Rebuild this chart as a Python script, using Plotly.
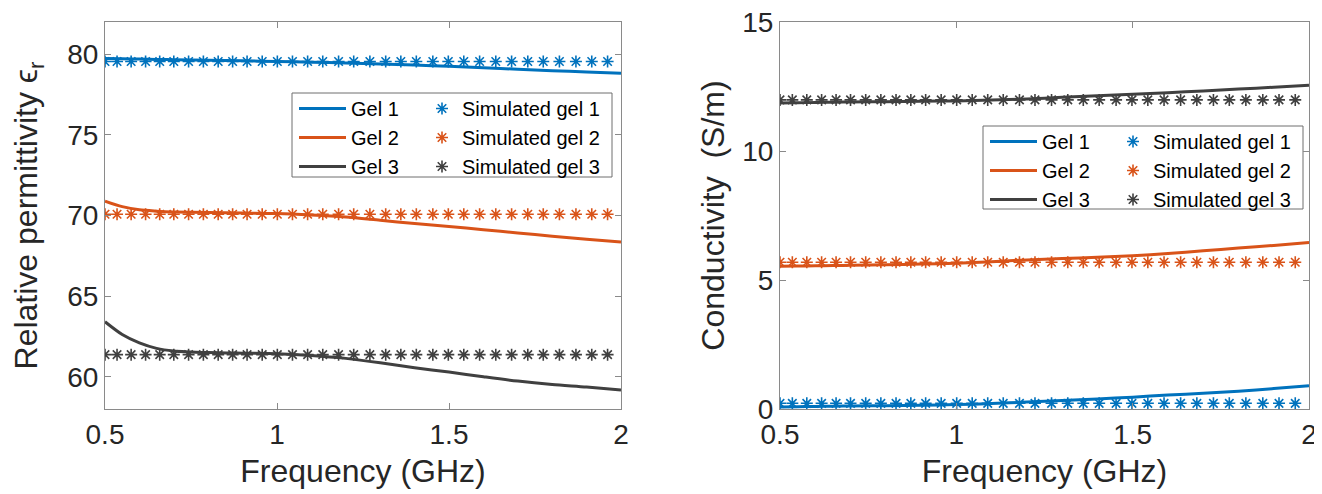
import plotly.graph_objects as go

# ---------------- data ----------------
freq = [0.5, 0.55, 0.6, 0.65, 0.7, 0.8, 0.9, 1.0, 1.1, 1.2, 1.3, 1.4, 1.5, 1.6, 1.7, 1.8, 1.9, 2.0]

eps_gel1 = [79.73, 79.72, 79.70, 79.68, 79.66, 79.63, 79.59, 79.55, 79.51, 79.46, 79.40, 79.33, 79.25, 79.16, 79.07, 78.98, 78.90, 78.82]
eps_gel2 = [70.89, 70.55, 70.35, 70.27, 70.22, 70.18, 70.15, 70.12, 70.03, 69.90, 69.70, 69.50, 69.32, 69.12, 68.92, 68.72, 68.53, 68.35]
eps_gel3 = [63.41, 62.62, 62.10, 61.76, 61.60, 61.50, 61.46, 61.43, 61.32, 61.14, 60.87, 60.56, 60.29, 60.00, 59.73, 59.52, 59.36, 59.17]

sig_gel1 = [0.08, 0.09, 0.10, 0.11, 0.12, 0.13, 0.15, 0.17, 0.21, 0.27, 0.33, 0.39, 0.46, 0.54, 0.61, 0.69, 0.79, 0.90]
sig_gel2 = [5.53, 5.54, 5.55, 5.56, 5.57, 5.59, 5.62, 5.65, 5.71, 5.78, 5.83, 5.88, 5.94, 6.03, 6.13, 6.24, 6.34, 6.45]
sig_gel3 = [11.86, 11.87, 11.88, 11.89, 11.90, 11.91, 11.93, 11.94, 11.98, 12.02, 12.08, 12.14, 12.20, 12.26, 12.33, 12.40, 12.47, 12.55]

sim_freq = [0.50, 0.535, 0.576, 0.618, 0.659, 0.700, 0.743, 0.786, 0.829, 0.871, 0.913, 0.957,
            1.001, 1.045, 1.089, 1.133, 1.179, 1.223, 1.270, 1.316, 1.360, 1.405, 1.453, 1.498,
            1.543, 1.589, 1.636, 1.682, 1.729, 1.774, 1.821, 1.869, 1.915, 1.961]

sim_eps_gel1 = [79.55, 79.55, 79.55, 79.55, 79.55, 79.55, 79.55, 79.55, 79.55, 79.55, 79.55, 79.55,
                79.55, 79.55, 79.55, 79.55, 79.55, 79.55, 79.55, 79.55, 79.55, 79.55, 79.55, 79.55,
                79.55, 79.55, 79.55, 79.55, 79.55, 79.55, 79.55, 79.55, 79.55, 79.55]
sim_eps_gel2 = [70.08, 70.08, 70.08, 70.08, 70.08, 70.08, 70.08, 70.08, 70.08, 70.08, 70.08, 70.08,
                70.08, 70.08, 70.08, 70.08, 70.08, 70.08, 70.08, 70.08, 70.08, 70.08, 70.08, 70.08,
                70.08, 70.08, 70.08, 70.08, 70.08, 70.08, 70.08, 70.08, 70.08, 70.08]
sim_eps_gel3 = [61.37, 61.37, 61.37, 61.37, 61.37, 61.37, 61.37, 61.37, 61.37, 61.37, 61.37, 61.37,
                61.37, 61.37, 61.37, 61.37, 61.37, 61.37, 61.37, 61.37, 61.37, 61.37, 61.37, 61.37,
                61.37, 61.37, 61.37, 61.37, 61.37, 61.37, 61.37, 61.37, 61.37, 61.37]

sim_sig_gel1 = [0.22, 0.22, 0.22, 0.22, 0.22, 0.22, 0.22, 0.22, 0.22, 0.22, 0.22, 0.22,
                0.22, 0.22, 0.22, 0.22, 0.22, 0.22, 0.22, 0.22, 0.22, 0.22, 0.22, 0.22,
                0.22, 0.22, 0.22, 0.22, 0.22, 0.22, 0.22, 0.22, 0.22, 0.22]
sim_sig_gel2 = [5.69, 5.69, 5.69, 5.69, 5.69, 5.69, 5.69, 5.69, 5.69, 5.69, 5.69, 5.69,
                5.69, 5.69, 5.69, 5.69, 5.69, 5.69, 5.69, 5.69, 5.69, 5.69, 5.69, 5.69,
                5.69, 5.69, 5.69, 5.69, 5.69, 5.69, 5.69, 5.69, 5.69, 5.69]
sim_sig_gel3 = [11.98, 11.98, 11.98, 11.98, 11.98, 11.98, 11.98, 11.98, 11.98, 11.98, 11.98, 11.98,
                11.98, 11.98, 11.98, 11.98, 11.98, 11.98, 11.98, 11.98, 11.98, 11.98, 11.98, 11.98,
                11.98, 11.98, 11.98, 11.98, 11.98, 11.98, 11.98, 11.98, 11.98, 11.98]

line_names = ["Gel 1", "Gel 2", "Gel 3"]
sim_names = ["Simulated gel 1", "Simulated gel 2", "Simulated gel 3"]
x_ticks = [0.5, 1, 1.5, 2]
x_tick_text = ["0.5", "1", "1.5", "2"]
eps_ticks = [60, 65, 70, 75, 80]
sig_ticks = [0, 5, 10, 15]

# ---------------- style ----------------
# the page keeps an 8 px body margin, so the figure is drawn 8 px in from the corner
OFF = 8
W, H = 1322 - OFF, 494 - OFF
COLORS = ["#0072BD", "#D95319", "#404040"]
FONT = "Liberation Sans, Arial, sans-serif"
TXT = "#262626"
AX = "#8a8a8a"


def px_x(p):
    return (p - OFF) / W


def px_y(p):
    return 1 - (p - OFF) / H


fig = go.Figure()

eps_lines = [eps_gel1, eps_gel2, eps_gel3]
eps_sims = [sim_eps_gel1, sim_eps_gel2, sim_eps_gel3]
sig_lines = [sig_gel1, sig_gel2, sig_gel3]
sig_sims = [sim_sig_gel1, sim_sig_gel2, sim_sig_gel3]

for i in range(3):
    fig.add_trace(go.Scatter(x=freq, y=eps_lines[i], mode="lines", name=line_names[i],
                             line=dict(color=COLORS[i], width=3, shape="spline", smoothing=0.8),
                             xaxis="x", yaxis="y", legend="legend"))
for i in range(3):
    fig.add_trace(go.Scatter(x=sim_freq, y=eps_sims[i], mode="markers", name=sim_names[i],
                             marker=dict(symbol="asterisk-open", size=10, color=COLORS[i],
                                         line=dict(color=COLORS[i], width=1.6)),
                             xaxis="x", yaxis="y", legend="legend2"))
for i in range(3):
    fig.add_trace(go.Scatter(x=freq, y=sig_lines[i], mode="lines", name=line_names[i],
                             line=dict(color=COLORS[i], width=3, shape="spline", smoothing=0.8),
                             xaxis="x2", yaxis="y2", legend="legend3"))
for i in range(3):
    fig.add_trace(go.Scatter(x=sim_freq, y=sig_sims[i], mode="markers", name=sim_names[i],
                             marker=dict(symbol="asterisk-open", size=10, color=COLORS[i],
                                         line=dict(color=COLORS[i], width=1.6)),
                             xaxis="x2", yaxis="y2", legend="legend4"))

axis_common = dict(showline=True, linecolor=AX, linewidth=1, mirror="allticks",
                   ticks="inside", ticklen=6, tickcolor=AX, tickwidth=1,
                   showgrid=False, zeroline=False, automargin=False,
                   ticklabeloverflow="allow",
                   tickfont=dict(family=FONT, size=28, color=TXT))
title_font = dict(family=FONT, size=32, color=TXT)

fig.update_layout(
    width=W, height=H,
    margin=dict(l=0, r=0, t=0, b=0),
    paper_bgcolor="white", plot_bgcolor="white",
    showlegend=True,
    xaxis=dict(domain=[px_x(105), px_x(621)], range=[0.5, 2], tickvals=x_ticks, ticktext=x_tick_text,
               title=dict(text="Frequency (GHz)", font=title_font, standoff=11), anchor="y", **axis_common),
    yaxis=dict(domain=[px_y(409), px_y(22)], range=[58, 82], tickvals=eps_ticks,
               title=dict(text="Relative permittivity \u03f5<sub>r</sub>", font=title_font, standoff=22),
               anchor="x", **axis_common),
    xaxis2=dict(domain=[px_x(780), px_x(1309)], range=[0.5, 2], tickvals=x_ticks, ticktext=x_tick_text,
                title=dict(text="Frequency (GHz)", font=title_font, standoff=11), anchor="y2", **axis_common),
    yaxis2=dict(domain=[px_y(409), px_y(22)], range=[0, 15], tickvals=sig_ticks,
                title=dict(text="Conductivity\u00a0 (S/m)", font=title_font, standoff=8),
                anchor="x2", **axis_common),
)

leg_common = dict(bgcolor="rgba(0,0,0,0)", borderwidth=0, font=dict(family=FONT, size=20, color="#000000"),
                  xanchor="left", yanchor="top", xref="paper", yref="paper", orientation="v",
                  tracegroupgap=0, itemsizing="trace")

# box geometry (pixels) of the two legend boxes
boxes = [(292, 93, 612, 177), (983, 126, 1303, 209)]
leg_names = [("legend", "legend2"), ("legend3", "legend4")]
for (x0, y0, x1, y1), (la, lb) in zip(boxes, leg_names):
    fig.update_layout({la: dict(x=px_x(x0 + 2), y=px_y(y0 - 4), itemwidth=47, **leg_common),
                       lb: dict(x=px_x(x0 + 130), y=px_y(y0 - 4), **leg_common)})
    fig.add_shape(type="rect", xref="paper", yref="paper",
                  x0=px_x(x0), x1=px_x(x1), y0=px_y(y1), y1=px_y(y0),
                  line=dict(color="#6e6e6e", width=1), fillcolor="white", layer="below")

fig.write_html("out.html")
